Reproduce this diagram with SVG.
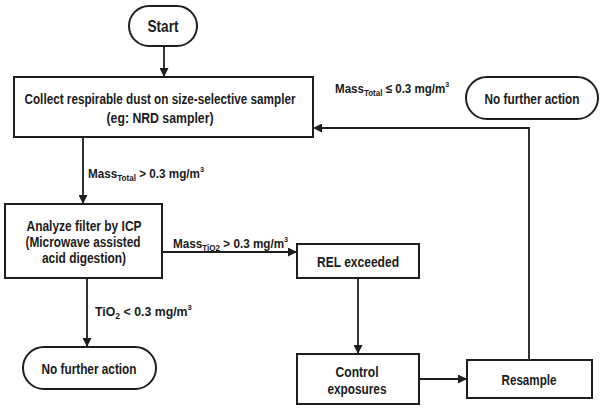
<svg xmlns="http://www.w3.org/2000/svg" width="603" height="411" viewBox="0 0 603 411">
<defs>
<marker id="arr" viewBox="0 0 10 10" refX="10" refY="5" markerUnits="userSpaceOnUse" markerWidth="9" markerHeight="9" orient="auto">
<path d="M0,0 L10,5 L0,10 z" fill="#1e1e1e"/>
</marker>
</defs>
<style>
.box{fill:#fff;stroke:#1e1e1e;stroke-width:2}
.t{font-family:"Liberation Sans",Arial,sans-serif;font-weight:bold;font-size:14px;fill:#1a1a1a;text-anchor:middle}
.lb{font-family:"Liberation Sans",Arial,sans-serif;font-weight:bold;font-size:13px;fill:#1a1a1a}
.sub{font-size:9px}
.sup{font-size:8px}
.c{fill:none;stroke:#1e1e1e;stroke-width:1.8;marker-end:url(#arr)}
</style>
<rect width="603" height="411" fill="#fff"/>
<g id="connectors">
<path class="c" d="M164,46 V77"/>
<path class="c" d="M83,137 V204"/>
<path class="c" d="M163,252 H297"/>
<path class="c" d="M87,278 V347"/>
<path class="c" d="M358,278 V354"/>
<path class="c" d="M419,379 H467"/>
<path class="c" d="M529,360 V128 H313"/>
</g>
<g id="labels">
<g transform="translate(335,93) scale(0.89,1)"><text class="lb" x="0" y="0">Mass<tspan class="sub" dy="3">Total</tspan><tspan dy="-3"> ≤ 0.3 mg/m</tspan><tspan class="sup" dy="-6">3</tspan></text></g>
<g transform="translate(88,178) scale(0.9,1)"><text class="lb" x="0" y="0">Mass<tspan class="sub" dy="3">Total</tspan><tspan dy="-3"> &gt; 0.3 mg/m</tspan><tspan class="sup" dy="-6">3</tspan></text></g>
<g transform="translate(173,248) scale(0.9,1)"><text class="lb" x="0" y="0">Mass<tspan class="sub" dy="3">TiO2</tspan><tspan dy="-3"> &gt; 0.3 mg/m</tspan><tspan class="sup" dy="-6">3</tspan></text></g>
<g transform="translate(95,316) scale(0.95,1)"><text class="lb" x="0" y="0">TiO<tspan class="sub" dy="3">2</tspan><tspan dy="-3"> &lt; 0.3 mg/m</tspan><tspan class="sup" dy="-6">3</tspan></text></g>
</g>
<g id="start">
<rect class="box" x="129" y="6" width="68" height="40" rx="20"/>
<text class="t" x="163" y="32" style="font-size:16px" textLength="31" lengthAdjust="spacingAndGlyphs">Start</text>
</g>
<g id="collect">
<rect class="box" x="14" y="77" width="299" height="60"/>
<text class="t" x="160" y="104" textLength="271" lengthAdjust="spacingAndGlyphs">Collect respirable dust on size-selective sampler</text>
<text class="t" x="160" y="123" textLength="107" lengthAdjust="spacingAndGlyphs">(eg: NRD sampler)</text>
</g>
<g id="nfa-top">
<rect class="box" x="466" y="77" width="132" height="42" rx="21"/>
<text class="t" x="532" y="104" textLength="95" lengthAdjust="spacingAndGlyphs">No further action</text>
</g>
<g id="analyze">
<rect class="box" x="5" y="204" width="157" height="74"/>
<text class="t" x="84" y="231" textLength="115" lengthAdjust="spacingAndGlyphs">Analyze filter by ICP</text>
<text class="t" x="83" y="247" textLength="115" lengthAdjust="spacingAndGlyphs">(Microwave assisted</text>
<text class="t" x="84" y="263" textLength="84" lengthAdjust="spacingAndGlyphs">acid digestion)</text>
</g>
<g id="rel">
<rect class="box" x="297" y="244" width="122" height="34"/>
<text class="t" x="358" y="267" textLength="82" lengthAdjust="spacingAndGlyphs">REL exceeded</text>
</g>
<g id="nfa-bottom">
<rect class="box" x="23" y="347" width="133" height="42" rx="21"/>
<text class="t" x="89" y="374" textLength="95" lengthAdjust="spacingAndGlyphs">No further action</text>
</g>
<g id="control">
<rect class="box" x="297" y="354" width="122" height="50"/>
<text class="t" x="357" y="377" textLength="43" lengthAdjust="spacingAndGlyphs">Control</text>
<text class="t" x="357" y="394" textLength="59" lengthAdjust="spacingAndGlyphs">exposures</text>
</g>
<g id="resample">
<rect class="box" x="467" y="360" width="125" height="38"/>
<text class="t" x="529" y="385" textLength="55" lengthAdjust="spacingAndGlyphs">Resample</text>
</g>
</svg>
